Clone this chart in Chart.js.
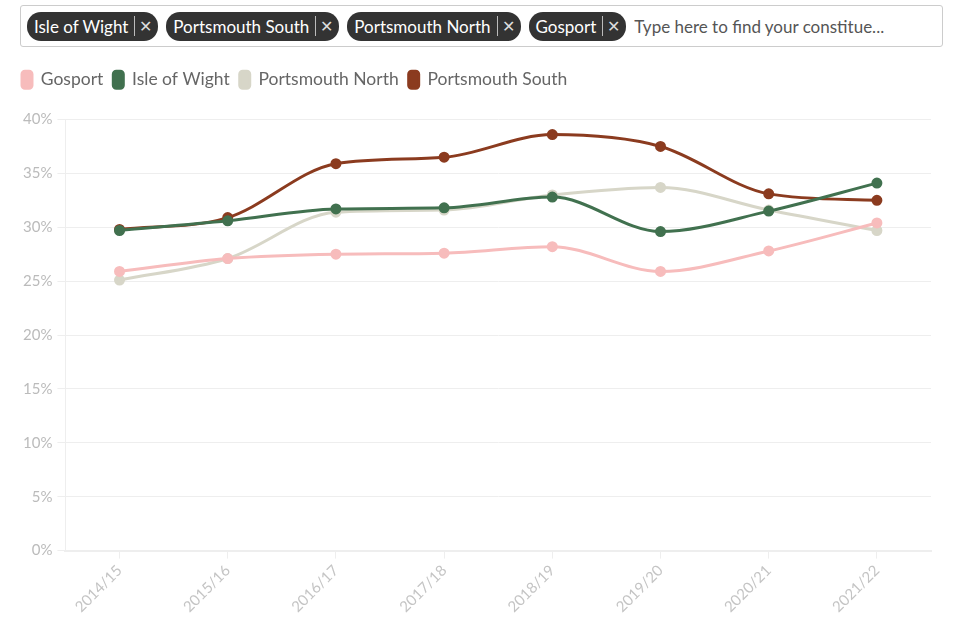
<!DOCTYPE html>
<html>
<head>
<meta charset="utf-8">
<script src="https://cdn.jsdelivr.net/npm/chart.js@4.4.1/dist/chart.umd.min.js"></script>
<style>
  body { margin: 0; background: #fff; font-family: Lato, sans-serif; }
  .picker {
    position: absolute; left: 20px; top: 5px; width: 923px; height: 42px;
    border: 1px solid #ccc; border-radius: 3px; box-sizing: border-box;
    display: flex; align-items: center; padding-left: 6px;
  }
  .tag {
    background: #333; color: #fff; border-radius: 14px; height: 29px;
    display: flex; align-items: center; padding: 0 6px 0 7px; margin-right: 8px;
    font-size: 17px; white-space: nowrap;
  }
  .tag .x { border-left: 1px solid #bbb; margin-left: 6px; padding-left: 4px; font-size: 16px; color: #ddd; }
  .ph { color: #555; font-size: 17px; white-space: nowrap; overflow: hidden; }
  .wrap { position: absolute; left: 12px; top: 61px; width: 927px; height: 574px; }
</style>
</head>
<body>
<div class="picker">
  <span class="tag">Isle of Wight<span class="x">✕</span></span>
  <span class="tag">Portsmouth South<span class="x">✕</span></span>
  <span class="tag">Portsmouth North<span class="x">✕</span></span>
  <span class="tag">Gosport<span class="x">✕</span></span>
  <span class="ph">Type here to find your constitue...</span>
</div>
<div class="wrap"><canvas id="chart"></canvas></div>
<script>
const years = ['2014/15', '2015/16', '2016/17', '2017/18', '2018/19', '2019/20', '2020/21', '2021/22']
const gosport = [25.9, 27.1, 27.5, 27.6, 28.2, 25.9, 27.8, 30.4]
const isleOfWight = [29.7, 30.6, 31.7, 31.8, 32.8, 29.6, 31.5, 34.1]
const portsmouthNorth = [25.1, 27.1, 31.4, 31.6, 33.0, 33.7, 31.6, 29.7]
const portsmouthSouth = [29.8, 30.9, 35.9, 36.5, 38.6, 37.5, 33.1, 32.5]

function series(label, data, color) {
    return {
        label, data,
        borderColor: color, backgroundColor: color,
        borderWidth: 3, pointRadius: 4, pointHoverRadius: 5,
        cubicInterpolationMode: 'monotone', fill: false
    }
}

// extra room under the legend
const legendGap = {
    id: 'legendGap',
    beforeInit(chart) {
        const fit = chart.legend.fit
        chart.legend.fit = function () {
            fit.bind(chart.legend)()
            this.height += 21
        }
    }
}

new Chart(document.getElementById('chart'), {
    type: 'line',
    data: {
        labels: years,
        datasets: [
            series('Gosport', gosport, '#f7bcbc'),
            series('Isle of Wight', isleOfWight, '#41714f'),
            series('Portsmouth North', portsmouthNorth, '#d7d6c8'),
            series('Portsmouth South', portsmouthSouth, '#8b3b1f')
        ]
    },
    options: {
        responsive: true,
        maintainAspectRatio: false,
        animation: false,
        layout: { padding: { left: 0, right: 0, top: 0, bottom: 16 } },
        plugins: {
            legend: {
                position: 'top', align: 'start',
                labels: {
                    boxWidth: 10, boxHeight: 17, useBorderRadius: true, borderRadius: 3,
                    padding: 10, color: '#666',
                    font: { family: 'Lato', size: 17.5 }
                }
            },
            tooltip: { enabled: false }
        },
        scales: {
            x: {
                offset: true,
                grid: { drawOnChartArea: false, color: '#eee', tickLength: 8 },
                border: { color: '#eee', width: 2 },
                ticks: { color: '#c4c4c4', maxRotation: 45, minRotation: 45, font: { family: 'Lato', size: 15 } }
            },
            y: {
                min: 0, max: 40,
                afterFit: axis => { axis.width += 6 },
                grid: { color: '#eee', tickLength: 8 },
                border: { color: '#eee' },
                ticks: { stepSize: 5, color: '#bbb', padding: 5, font: { family: 'Lato', size: 15 }, callback: v => v + '%' }
            }
        }
    },
    plugins: [legendGap]
})
</script>
</body>
</html>
